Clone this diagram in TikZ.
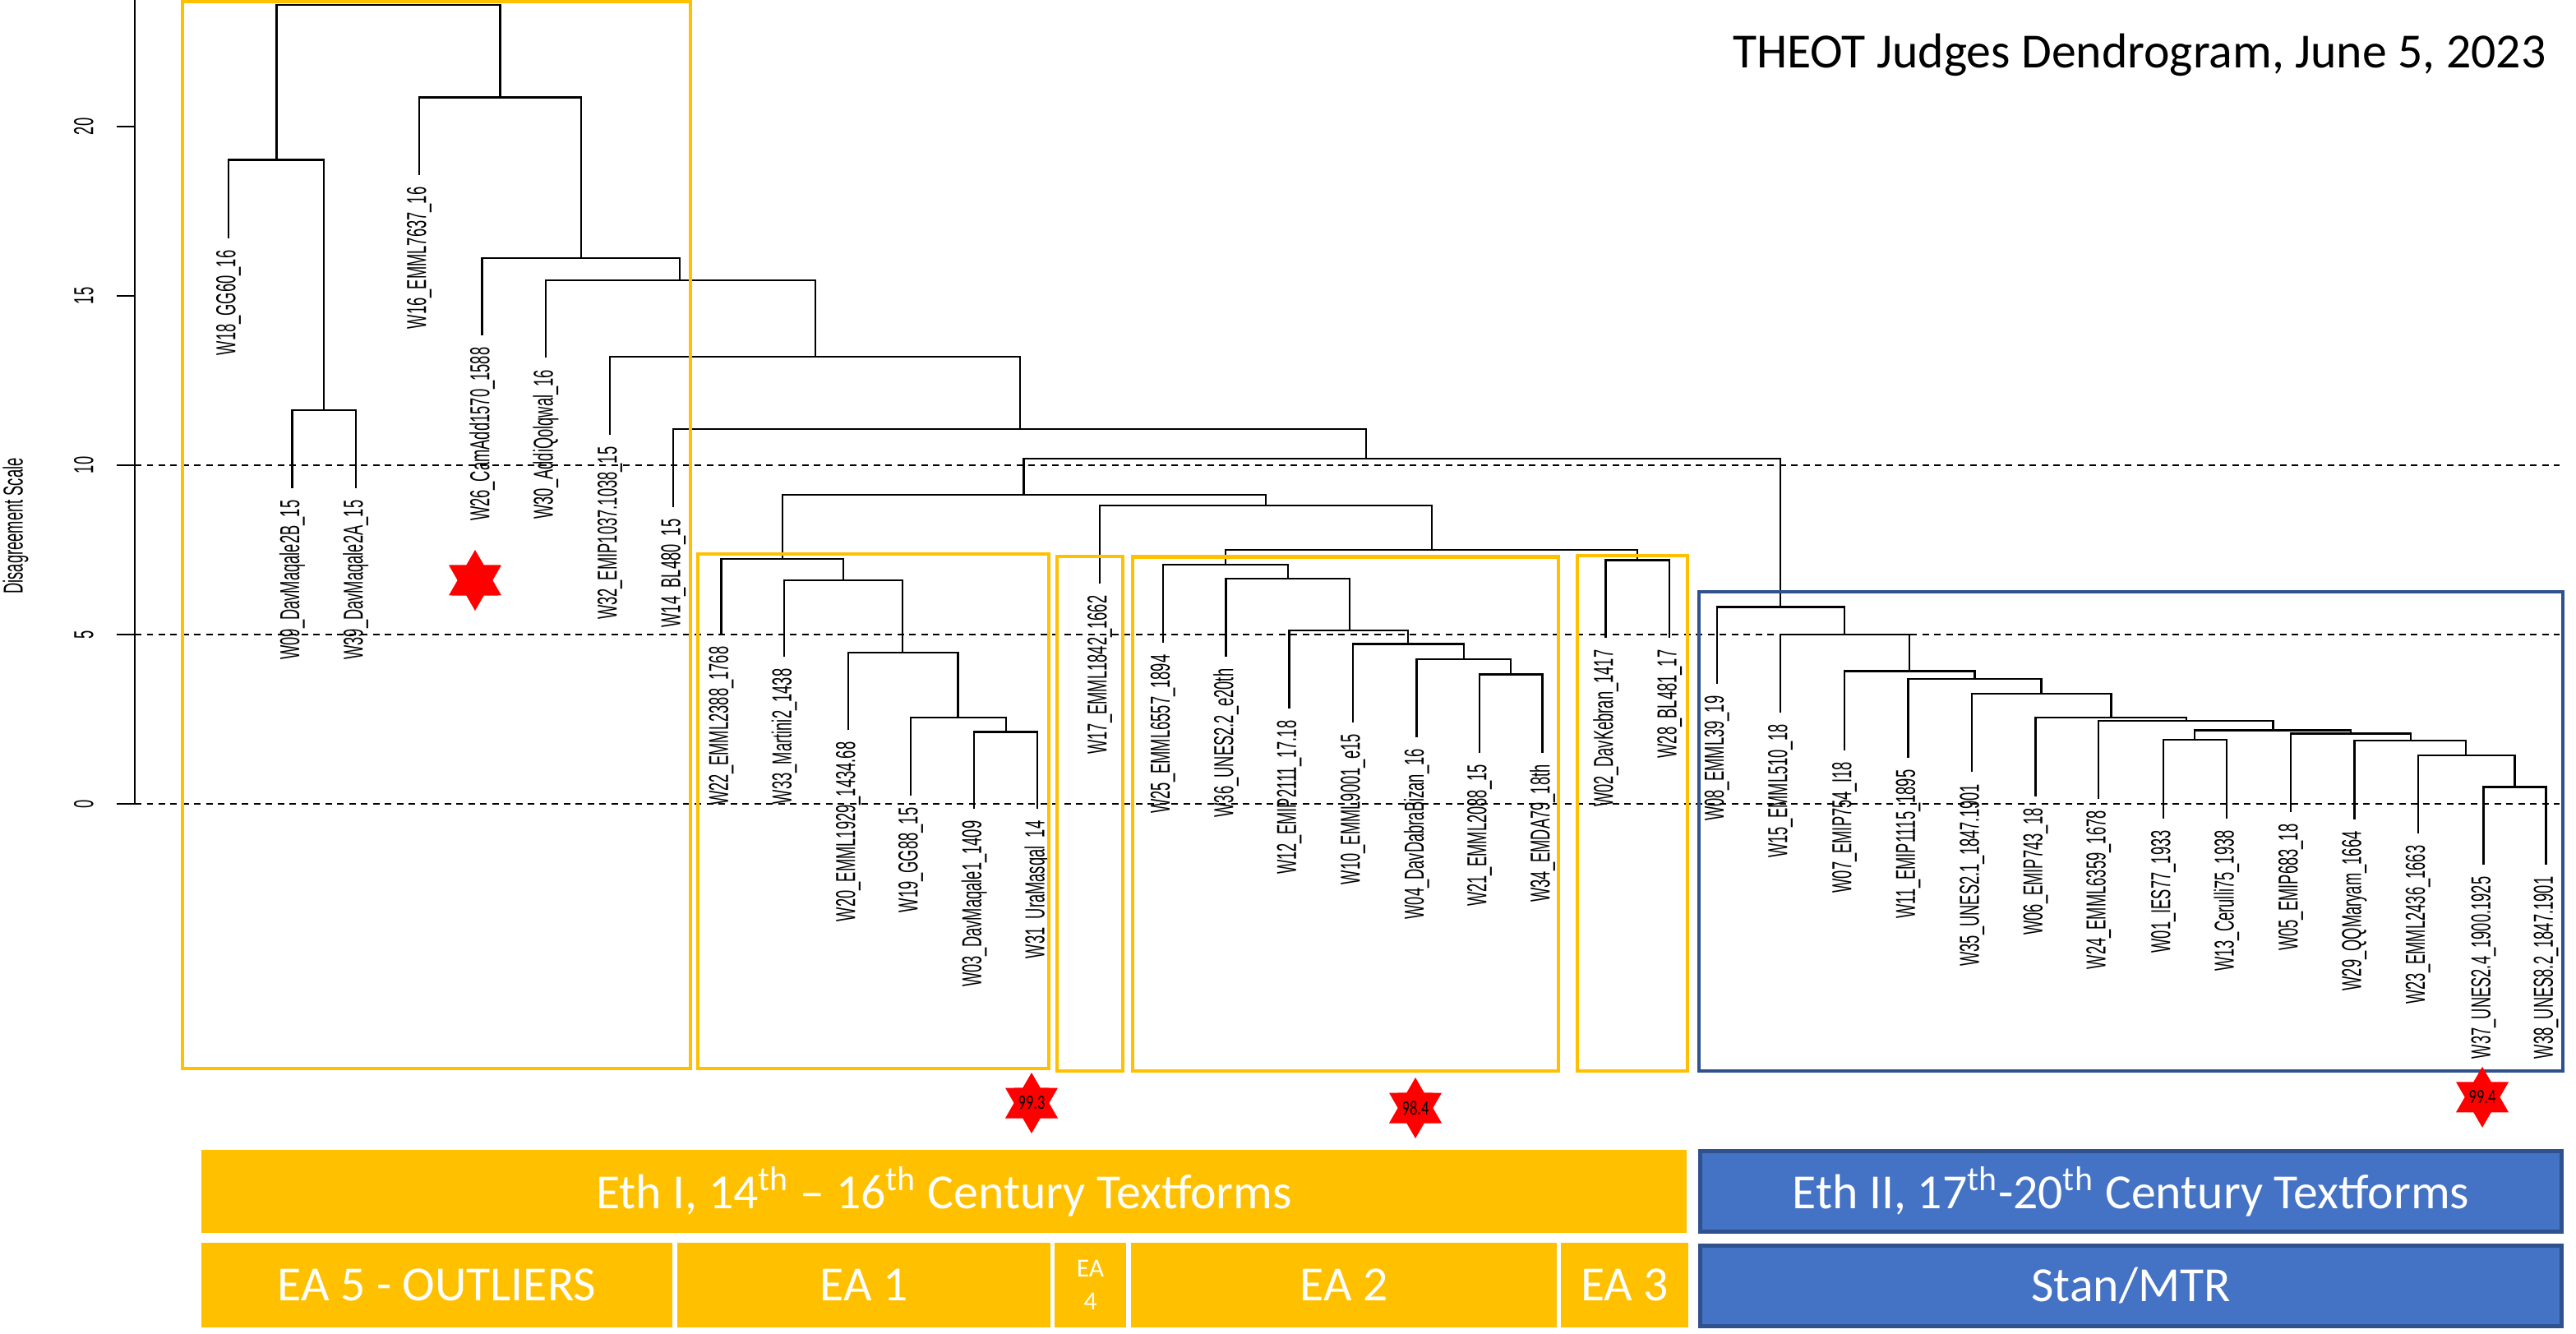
\documentclass[tikz,border=0pt]{standalone}
\usepackage{fontspec}
\setmainfont{Carlito}
\newfontfamily\rfont[FakeStretch=0.55]{Liberation Sans}
\newfontfamily\snum[FakeStretch=0.75]{Carlito}
\usetikzlibrary{shapes.geometric}
\definecolor{gold}{HTML}{FFC000}
\definecolor{eablue}{HTML}{4472C4}
\definecolor{eadark}{HTML}{2F528F}
\definecolor{starred}{HTML}{FF0000}
\begin{document}
\begin{tikzpicture}[
  x=0.02cm, y=-0.02cm,
  leaf/.style={rotate=90, anchor=east, inner xsep=0.14cm, inner ysep=0pt, font=\fontsize{9.5}{11}\rfont},
  scalelbl/.style={rotate=90, inner sep=0pt, font=\fontsize{9.5}{11}\rfont},
  branch/.style={line width=0.7pt},
  cutline/.style={line width=0.6pt, dash pattern=on 0.08cm off 0.065cm},
  eabox/.style={draw=gold, line width=1.2pt},
  mtrbox/.style={draw=eadark, line width=1.1pt},
  band/.style={fill=gold, text=white, inner sep=0pt, minimum height=1.01cm, font=\fontsize{17}{20}\selectfont},
  blueband/.style={band, fill=eablue, draw=eadark, line width=1.5pt, minimum height=0.98cm},
  redstar/.style={star, star points=6, star point ratio=1.73, fill=starred, minimum size=0.74cm, inner sep=0pt},
  starnum/.style={inner sep=0pt, text=black, font=\fontsize{7}{8}\snum},
  ]
  \useasboundingbox (0,0) rectangle (1567,811.5);

  \draw[cutline] (82,283) -- (1557,283);
  \draw[cutline] (82,386) -- (1557,386);
  \draw[cutline] (82,489) -- (1557,489);

  \draw[branch] (82,489) -- (82,0);
  \draw[branch] (71,489) -- (82,489);
  \draw[branch] (71,386) -- (82,386);
  \draw[branch] (71,283) -- (82,283);
  \draw[branch] (71,180) -- (82,180);
  \draw[branch] (71,77) -- (82,77);
  \node[scalelbl] (y0) at (51,489) {0};
  \node[scalelbl] (y5) at (51,386) {5};
  \node[scalelbl] (y10) at (51,283) {10};
  \node[scalelbl] (y15) at (51,180) {15};
  \node[scalelbl] (y20) at (51,77) {20};
  \node[scalelbl] (ylab) at (9.5,320) {Disagreement Scale};

  \node[font=\fontsize{17}{20}\selectfont, anchor=base east, inner sep=0pt] (title) at (1549,41.5) {THEOT Judges Dendrogram, June 5, 2023};

  \node[leaf] (w18) at (139,145) {W18\_GG60\_16};
  \node[leaf] (w09) at (177.7,297) {W09\_DavMaqale2B\_15};
  \node[leaf] (w39) at (216.4,297) {W39\_DavMaqale2A\_15};
  \node[leaf] (w16) at (255,106.5) {W16\_EMML7637\_16};
  \node[leaf] (w26) at (293.3,204) {W26\_CamAdd1570\_1588};
  \node[leaf] (w30) at (332,217.6) {W30\_AddiQolqwal\_16};
  \node[leaf] (w32) at (371,264.5) {W32\_EMIP1037.1038\_15};
  \node[leaf] (w14) at (409.6,308.5) {W14\_BL480\_15};
  \node[leaf] (w22) at (438.8,386) {W22\_EMML2388\_1768};
  \node[leaf] (w33) at (477,399.5) {W33\_Martini2\_1438};
  \node[leaf] (w20) at (516,444) {W20\_EMML1929\_1434.68};
  \node[leaf] (w19) at (554,484) {W19\_GG88\_15};
  \node[leaf] (w03) at (592.6,492) {W03\_DavMaqale1\_1409};
  \node[leaf] (w31) at (631,492) {W31\_UraMasqal\_14};
  \node[leaf] (w17) at (669,355) {W17\_EMML1842\_1662};
  \node[leaf] (w25) at (707.4,391) {W25\_EMML6557\_1894};
  \node[leaf] (w36) at (745.8,399.5) {W36\_UNES2.2\_e20th};
  \node[leaf] (w12) at (784.2,431) {W12\_EMIP2111\_17.18};
  \node[leaf] (w10) at (823,439.3) {W10\_EMML9001\_e15};
  \node[leaf] (w04) at (861.7,448.3) {W04\_DavDabraBizan\_16};
  \node[leaf] (w21) at (900,457.8) {W21\_EMML2088\_15};
  \node[leaf] (w34) at (938.3,457.8) {W34\_EMDA79\_18th};
  \node[leaf] (w02) at (976.8,388) {W02\_DavKebran\_1417};
  \node[leaf] (w28) at (1015.6,388) {W28\_BL481\_17};
  \node[leaf] (w08) at (1044.4,416) {W08\_EMML39\_19};
  \node[leaf] (w15) at (1083,433.4) {W15\_EMML510\_18};
  \node[leaf] (w07) at (1122,456.3) {W07\_EMIP754\_I18};
  \node[leaf] (w11) at (1160.8,461) {W11\_EMIP1115\_1895};
  \node[leaf] (w35) at (1199.6,469.7) {W35\_UNES2.1\_1847.1901};
  \node[leaf] (w06) at (1238.3,484.4) {W06\_EMIP743\_18};
  \node[leaf] (w24) at (1276.6,485.8) {W24\_EMML6359\_1678};
  \node[leaf] (w01) at (1316,497.8) {W01\_IES77\_1933};
  \node[leaf] (w13) at (1354.4,497.8) {W13\_Cerulli75\_1938};
  \node[leaf] (w05) at (1393.5,494) {W05\_EMIP683\_18};
  \node[leaf] (w29) at (1432.2,498.4) {W29\_QQMaryam\_1664};
  \node[leaf] (w23) at (1470.9,507) {W23\_EMML2436\_1663};
  \node[leaf] (w37) at (1510.7,526) {W37\_UNES2.4\_1900.1925};
  \node[leaf] (w38) at (1548.7,526) {W38\_UNES8.2\_1847.1901};

  \coordinate (a1) at (197,249.6);
  \coordinate (a2) at (168.2,97.3);
  \coordinate (b6) at (919,410.2);
  \coordinate (b5) at (890.6,401);
  \coordinate (b4) at (856.6,391.8);
  \coordinate (b3) at (821,383.6);
  \coordinate (b2) at (783.4,352);
  \coordinate (b1) at (745.4,343.6);
  \coordinate (c1) at (996,340.7);
  \coordinate (bc) at (871,334.4);
  \coordinate (d1) at (770,307.6);
  \coordinate (e5) at (612,445.3);
  \coordinate (e4) at (582.7,436.6);
  \coordinate (e3) at (549,397);
  \coordinate (e2) at (513,353);
  \coordinate (e1) at (476,340);
  \coordinate (f1) at (622.7,300.9);
  \coordinate (r13) at (1529.7,478.7);
  \coordinate (r12) at (1500,459.6);
  \coordinate (r11) at (1466.4,450.6);
  \coordinate (r10) at (1430,446.2);
  \coordinate (r9) at (1335,450);
  \coordinate (r8) at (1382.8,444.3);
  \coordinate (r7) at (1329.9,438.5);
  \coordinate (r6) at (1284.3,436.6);
  \coordinate (r5) at (1241.7,421.9);
  \coordinate (r4) at (1201.3,413);
  \coordinate (r3) at (1161.5,408.3);
  \coordinate (r2) at (1122,386);
  \coordinate (r1) at (1083,369.3);
  \coordinate (g1) at (831,279);
  \coordinate (g2) at (620.5,261);
  \coordinate (g3) at (496,217);
  \coordinate (g4) at (413.6,170.5);
  \coordinate (g5) at (353.6,157);
  \coordinate (g6) at (304.2,59.2);
  \coordinate (root) at (236,3.1);

  \draw[branch] (w09.east) |- (a1) -| (w39.east);
  \draw[branch] (w18.east) |- (a2) -| (a1);
  \draw[branch] (w21.east) |- (b6) -| (w34.east);
  \draw[branch] (w04.east) |- (b5) -| (b6);
  \draw[branch] (w10.east) |- (b4) -| (b5);
  \draw[branch] (w12.east) |- (b3) -| (b4);
  \draw[branch] (w36.east) |- (b2) -| (b3);
  \draw[branch] (w25.east) |- (b1) -| (b2);
  \draw[branch] (w02.east) |- (c1) -| (w28.east);
  \draw[branch] (b1) |- (bc) -| (c1);
  \draw[branch] (w17.east) |- (d1) -| (bc);
  \draw[branch] (w03.east) |- (e5) -| (w31.east);
  \draw[branch] (w19.east) |- (e4) -| (e5);
  \draw[branch] (w20.east) |- (e3) -| (e4);
  \draw[branch] (w33.east) |- (e2) -| (e3);
  \draw[branch] (w22.east) |- (e1) -| (e2);
  \draw[branch] (e1) |- (f1) -| (d1);
  \draw[branch] (w37.east) |- (r13) -| (w38.east);
  \draw[branch] (w23.east) |- (r12) -| (r13);
  \draw[branch] (w29.east) |- (r11) -| (r12);
  \draw[branch] (w05.east) |- (r10) -| (r11);
  \draw[branch] (w01.east) |- (r9) -| (w13.east);
  \draw[branch] (r9) |- (r8) -| (r10);
  \draw[branch] (w24.east) |- (r7) -| (r8);
  \draw[branch] (w06.east) |- (r6) -| (r7);
  \draw[branch] (w35.east) |- (r5) -| (r6);
  \draw[branch] (w11.east) |- (r4) -| (r5);
  \draw[branch] (w07.east) |- (r3) -| (r4);
  \draw[branch] (w15.east) |- (r2) -| (r3);
  \draw[branch] (w08.east) |- (r1) -| (r2);
  \draw[branch] (f1) |- (g1) -| (r1);
  \draw[branch] (w14.east) |- (g2) -| (g1);
  \draw[branch] (w32.east) |- (g3) -| (g2);
  \draw[branch] (w30.east) |- (g4) -| (g3);
  \draw[branch] (w26.east) |- (g5) -| (g4);
  \draw[branch] (w16.east) |- (g6) -| (g5);
  \draw[branch] (a2) |- (root) -| (g6);

  \draw[eabox] (111,1) rectangle (420,650);
  \draw[eabox] (424.5,337) rectangle (638,650);
  \draw[eabox] (643,338.5) rectangle (683,651.5);
  \draw[eabox] (689,338.8) rectangle (948,651.5);
  \draw[eabox] (959.5,338) rectangle (1026.5,651.5);
  \draw[mtrbox] (1033.5,360) rectangle (1559,651.5);

  \node[redstar] (s0) at (289,353) {};
  \node[redstar, label={[starnum]center:99.3}] (s1) at (627.5,671) {};
  \node[redstar, label={[starnum]center:98.4}] (s2) at (861,674) {};
  \node[redstar, label={[starnum]center:99.4}] (s3) at (1510,667.4) {};

  \node[band, minimum width=18.07cm] (eth1) at (574.25,724.75) {Eth I, 14\textsuperscript{th} -- 16\textsuperscript{th} Century Textforms};
  \node[blueband, minimum width=10.48cm] (eth2) at (1296.25,724.75) {Eth II, 17\textsuperscript{th}-20\textsuperscript{th} Century Textforms};
  \node[band, minimum width=5.73cm, minimum height=1.03cm] (ea5) at (265.75,781.75) {EA 5 - OUTLIERS};
  \node[band, minimum width=4.54cm, minimum height=1.03cm] (ea1) at (525.5,781.75) {EA 1};
  \node[band, minimum width=0.87cm, minimum height=1.03cm, align=center, font=\fontsize{9}{11.5}\selectfont] (ea4) at (663.25,781.75) {EA\\4};
  \node[band, minimum width=5.18cm, minimum height=1.03cm] (ea2) at (817.5,781.75) {EA 2};
  \node[band, minimum width=1.55cm, minimum height=1.03cm] (ea3) at (988.25,781.75) {EA 3};
  \node[blueband, minimum width=10.48cm] (stan) at (1296.25,782.25) {Stan/MTR};
\end{tikzpicture}
\end{document}
